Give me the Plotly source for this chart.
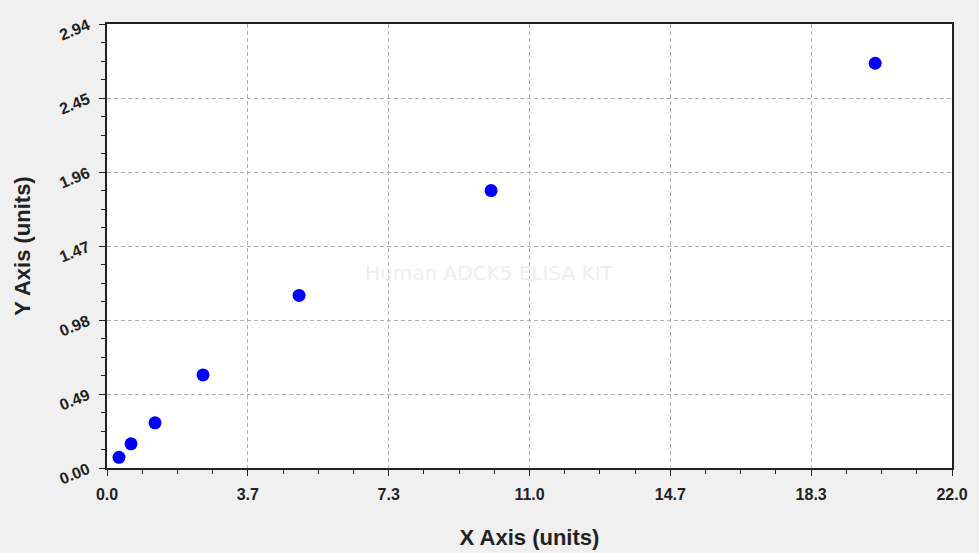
import plotly.graph_objects as go

# standard curve readings
conc = [0.312, 0.625, 1.25, 2.5, 5, 10, 20]
od = [0.071, 0.160, 0.299, 0.616, 1.143, 1.837, 2.680]

x_ticks = [0, 22 / 6, 44 / 6, 11, 88 / 6, 110 / 6, 22]
x_labels = ["0.0", "3.7", "7.3", "11.0", "14.7", "18.3", "22.0"]
y_ticks = [0, 0.49, 0.98, 1.47, 1.96, 2.45, 2.94]
y_labels = ["0.00", "0.49", "0.98", "1.47", "1.96", "2.45", "2.94"]

tick_font = dict(family="Liberation Sans", size=16, color="#222222")
title_font = dict(family="Liberation Sans", size=22, color="#222222")

fig = go.Figure()
fig.add_trace(
    go.Scatter(
        x=conc,
        y=od,
        mode='markers',
        marker=dict(size=13, color='#0000ff'),
        showlegend=False,
    )
)

axis_common = dict(
    showline=True,
    linecolor='#222222',
    linewidth=1.5,
    mirror=True,
    ticks='outside',
    ticklen=6,
    tickcolor='#222222',
    showgrid=True,
    gridcolor='#b0b0b0',
    griddash='4px,3px',
    gridwidth=1,
    zeroline=False,
    tickfont=tick_font,
    automargin=False,
)

fig.update_xaxes(
    range=[0, 22],
    tickmode='array',
    tickvals=x_ticks,
    ticktext=[f"<b>{t}</b>" for t in x_labels],
    ticklabelstandoff=5,
    minor=dict(tickmode='array', tickvals=[i * 22 / 24 for i in range(25)],
               ticks='outside', ticklen=4, tickcolor='#222222', showgrid=False),
    title=dict(text="<b>X Axis (units)</b>", font=title_font, standoff=28),
    **axis_common,
)
fig.update_yaxes(
    range=[0, 2.94],
    tickmode='array',
    tickvals=y_ticks,
    ticktext=[f"<b>{t}</b>" for t in y_labels],
    tickangle=-22,
    ticklabelstandoff=8,
    minor=dict(tickmode='array', tickvals=[i * 0.1225 for i in range(25)],
               ticks='outside', ticklen=4, tickcolor='#222222', showgrid=False),
    title=dict(text="<b>Y Axis (units)</b>", font=title_font, standoff=20),
    **axis_common,
)

fig.add_annotation(
    text="Human ADCK5 ELISA KIT",
    xref='paper', yref='paper',
    x=0.453, y=0.44,
    showarrow=False,
    font=dict(family="DejaVu Sans", size=20, color='#eeeeee'),
)

fig.update_layout(
    width=979,
    height=553,
    margin=dict(l=107, r=27, t=24, b=85),
    paper_bgcolor='#f0f0f0',
    plot_bgcolor='white',
)

fig.write_html("out.html", config={'displayModeBar': False},
               post_script="document.body.style.margin='0';")
